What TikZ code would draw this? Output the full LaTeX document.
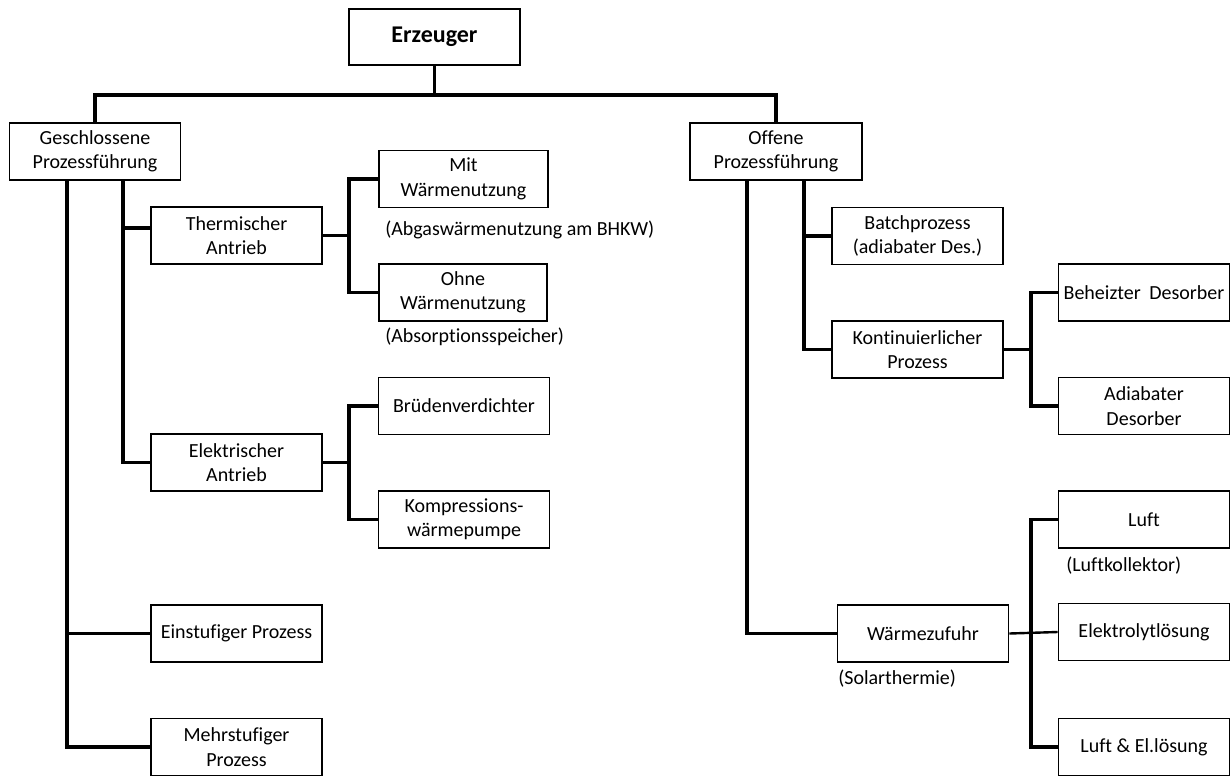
\documentclass[tikz,border=0pt]{standalone}
\usepackage{fontspec}
\setmainfont{Carlito}[Ligatures=CommonOff]
\begin{document}
\begin{tikzpicture}[x=0.75pt,y=-0.75pt,
  box/.style={draw, line width=1.4pt, align=center, inner sep=0pt,
    minimum width=128.25pt, minimum height=42.75pt,
    font=\fontsize{15}{18.3}\selectfont},
  conn/.style={line width=2.6pt, line join=miter},
  thinconn/.style={line width=1.8pt},
  note/.style={anchor=west, inner sep=0pt, font=\fontsize{15}{18.3}\selectfont}]

\useasboundingbox (0,0) rectangle (1232,776);
\fill[white] (0,0) rectangle (1232,776);

% root
\node[box, minimum height=42pt, font=\fontsize{18}{22}\selectfont\bfseries] (erz) at (434.5,37) {Erzeuger};

% first level
\node[box] (ges) at (95,151.5) {Geschlossene\\Prozessführung};
\node[box, minimum width=129pt] (off) at (776,151.5) {Offene\\Prozessführung};

% closed process branch
\node[box] (therm) at (236.5,235.5) {Thermischer\\Antrieb};
\node[box] (elek)  at (236.5,462.5) {Elektrischer\\Antrieb};
\node[box] (ein)   at (236.5,633.5) {Einstufiger Prozess};
\node[box] (mehr)  at (236.5,747)   {Mehrstufiger\\Prozess};

\node[box, minimum width=127pt] (mit)  at (463.5,179)   {Mit\\Wärmenutzung};
\node[box, minimum width=126pt] (ohne) at (463,292.5)   {Ohne\\Wärmenutzung};
\node[box] (brue) at (464,406)   {Brüdenverdichter};
\node[box] (komp) at (464,519.5) {Kompressions-\\wärmepumpe};

\node[note] (abgas) at (385,230) {(Abgaswärmenutzung am BHKW)};
\node[note] (absorp) at (385,337) {(Absorptionsspeicher)};

% open process branch
\node[box] (batch) at (917.5,236)   {Batchprozess\\(adiabater Des.)};
\node[box] (kont)  at (917.5,349.5) {Kontinuierlicher\\Prozess};
\node[box] (beh)   at (1144,292.5)  {Beheizter\hspace{0.2em} Desorber};
\node[box] (adia)  at (1144,406)    {Adiabater\\Desorber};

\node[box] (waerme) at (923,633.5) {Wärmezufuhr};
\node[box] (luft)   at (1144,519.5) {Luft};
\node[box] (elyt)   at (1144,632)   {Elektrolytlösung};
\node[box] (luftel) at (1144,747)   {Luft \& El.lösung};

\node[note] (lkoll) at (1066,566) {(Luftkollektor)};
\node[note] (solar) at (838,679) {(Solarthermie)};

% junction points
\coordinate (bus) at (434.5,95);
\coordinate (gA) at (67,180);
\coordinate (gB) at (123,180);
\coordinate (tj) at (349,235.5);
\coordinate (ej) at (349,462.5);
\coordinate (oA) at (747,180);
\coordinate (oB) at (804,180);
\coordinate (kj) at (1031,349.5);
\coordinate (wj) at (1031,633);

% top level connectors
\draw[conn] (erz.south) -- (bus);
\draw[conn] (ges.north) |- (bus) -| (off.north);

% closed process connectors
\draw[conn] (gB) |- ([yshift=5.6pt]therm.west);
\draw[conn] (gB) |- (elek.west);
\draw[conn] (gA) |- (ein.west);
\draw[conn] (gA) |- (mehr.west);

\draw[conn] (therm.east) -- (tj);
\draw[conn] (mit.west) -| (tj) |- (ohne.west);
\draw[conn] (elek.east) -- (ej);
\draw[conn] (brue.west) -| (ej) |- (komp.west);

% open process connectors
\draw[conn] (oB) |- (batch.west);
\draw[conn] (oB) |- (kont.west);
\draw[conn] (oA) |- (waerme.west);

\draw[conn] (kont.east) -- (kj);
\draw[conn] (beh.west) -| (kj) |- (adia.west);

\draw[thinconn] (waerme.east) -- (elyt.west);
\draw[conn] (luft.west) -| (wj) |- (luftel.west);

\end{tikzpicture}
\end{document}
